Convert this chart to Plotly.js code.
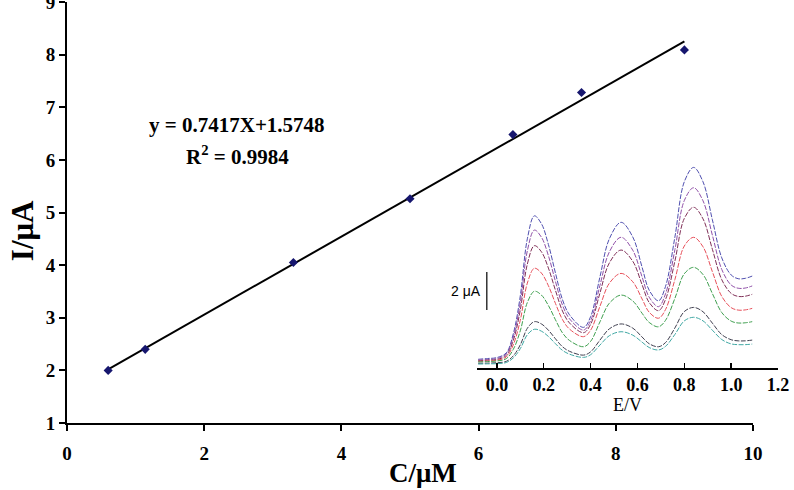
<!DOCTYPE html>
<html>
<head>
<meta charset="utf-8">
<script src="https://cdn.plot.ly/plotly-3.0.1.min.js"></script>
<style>
  html, body { margin: 0; padding: 0; background: #ffffff; }
  #chart { width: 794px; height: 490px; }
</style>
</head>
<body>
<div id="chart"></div>
<script>
// Calibration: peak current vs. concentration
const conc = [0.6, 1.14, 3.3, 5.0, 6.5, 7.5, 9.0];          // C / µM
const current = [2.0, 2.4, 4.05, 5.26, 6.48, 7.28, 8.09];   // I / µA
const slope = 0.7417;
const intercept = 1.5748;
const rSquared = 0.9984;

// Inset: differential pulse voltammograms (potential in V, current in µA, offset scale)
const potential = [-0.08, -0.04, 0.00, 0.04, 0.07, 0.10, 0.13, 0.16, 0.19, 0.22, 0.25, 0.28, 0.31,
  0.37, 0.40, 0.44, 0.48, 0.53, 0.58, 0.62, 0.65, 0.69, 0.72, 0.76, 0.80, 0.84, 0.88, 0.92, 0.96,
  1.00, 1.03, 1.06, 1.09];
const dpv1 = [0.46, 0.50, 0.55, 0.80, 1.80, 3.80, 6.80, 8.01, 7.60, 6.50, 5.00, 3.60, 2.80, 2.14, 2.70,
  4.80, 6.80, 7.67, 6.90, 5.30, 4.10, 3.54, 4.30, 6.90, 9.80, 10.56, 9.80, 7.80, 5.80, 4.90, 4.70, 4.72, 4.84];
const dpv2 = [0.42, 0.45, 0.50, 0.74, 1.63, 3.44, 6.17, 7.26, 6.89, 5.91, 4.56, 3.31, 2.59, 2.00, 2.49,
  4.35, 6.11, 6.88, 6.20, 4.79, 3.73, 3.23, 3.91, 6.23, 8.81, 9.49, 8.80, 6.99, 5.19, 4.37, 4.20, 4.21, 4.32];
const dpv3 = [0.38, 0.41, 0.45, 0.66, 1.45, 3.06, 5.47, 6.44, 6.12, 5.26, 4.09, 3.00, 2.37, 1.86, 2.30,
  3.95, 5.53, 6.21, 5.62, 4.38, 3.45, 3.02, 3.61, 5.63, 7.87, 8.46, 7.85, 6.25, 4.65, 3.93, 3.77, 3.78, 3.88];
const dpv4 = [0.35, 0.37, 0.41, 0.58, 1.22, 2.52, 4.47, 5.25, 5.00, 4.33, 3.40, 2.55, 2.05, 1.65, 1.99,
  3.25, 4.46, 4.98, 4.54, 3.63, 2.94, 2.62, 3.08, 4.66, 6.42, 6.88, 6.38, 5.07, 3.77, 3.18, 3.05, 3.06, 3.14];
const dpv5 = [0.32, 0.34, 0.37, 0.49, 0.98, 1.96, 3.45, 4.04, 3.84, 3.29, 2.54, 1.85, 1.45, 1.12, 1.40,
  2.43, 3.41, 3.84, 3.53, 2.88, 2.40, 2.17, 2.51, 3.67, 4.96, 5.30, 4.92, 3.92, 2.92, 2.47, 2.37, 2.38, 2.44];
const dpv6 = [0.25, 0.26, 0.28, 0.35, 0.64, 1.22, 2.09, 2.44, 2.32, 1.99, 1.54, 1.12, 0.88, 0.68, 0.85,
  1.47, 2.06, 2.32, 2.10, 1.63, 1.28, 1.12, 1.34, 2.11, 2.97, 3.19, 2.96, 2.36, 1.76, 1.49, 1.43, 1.43, 1.47];
const dpv7 = [0.21, 0.22, 0.23, 0.29, 0.53, 1.02, 1.75, 2.04, 1.94, 1.66, 1.28, 0.93, 0.73, 0.56, 0.70,
  1.21, 1.70, 1.91, 1.73, 1.36, 1.08, 0.95, 1.14, 1.77, 2.48, 2.67, 2.48, 1.99, 1.50, 1.27, 1.23, 1.23, 1.26];
const dpvCurves = [dpv1, dpv2, dpv3, dpv4, dpv5, dpv6, dpv7];
const dpvColors = ['#5050b0', '#9050a8', '#803058', '#e8505a', '#40a050', '#404050', '#40a8a4'];

const serif = 'Liberation Serif, Times New Roman, serif';

// Fitted line over the measured concentration span
const fitX = [conc[0], conc[conc.length - 1]];
const fitY = fitX.map(c => slope * c + intercept);

const traces = [
  {
    x: fitX, y: fitY, mode: 'lines', type: 'scatter',
    line: { color: '#000000', width: 2 }, hoverinfo: 'skip', showlegend: false
  },
  {
    x: conc, y: current, mode: 'markers', type: 'scatter',
    marker: { symbol: 'diamond', size: 7, color: '#16166e' }, showlegend: false
  }
];

dpvCurves.forEach((curve, i) => {
  traces.push({
    x: potential, y: curve, mode: 'lines', type: 'scatter',
    xaxis: 'x2', yaxis: 'y2',
    line: { color: dpvColors[i], width: 1, shape: 'spline', smoothing: 1, dash: '5px,1.5px' },
    showlegend: false
  });
});

const layout = {
  width: 794, height: 490,
  margin: { l: 67, r: 10, t: 2, b: 67 },
  paper_bgcolor: '#ffffff', plot_bgcolor: 'rgba(0,0,0,0)',
  showlegend: false,
  xaxis: {
    domain: [0, 0.9568], range: [0, 10], dtick: 2, tick0: 0,
    showgrid: false, zeroline: false,
    showline: true, linecolor: '#000000', linewidth: 2,
    ticks: 'outside', ticklen: 6, tickwidth: 2, tickcolor: '#000000',
    ticklabelstandoff: 6,
    tickfont: { family: serif, size: 19, color: '#000000', weight: 'bold' }
  },
  yaxis: {
    domain: [0, 1], range: [1, 9], dtick: 1,
    showgrid: false, zeroline: false,
    showline: true, linecolor: '#000000', linewidth: 2,
    ticks: 'outside', ticklen: 6, tickwidth: 2, tickcolor: '#000000',
    ticklabeloverflow: 'allow',
    tickfont: { family: serif, size: 19, color: '#000000', weight: 'bold' }
  },
  xaxis2: {
    domain: [0.5718, 0.9916], range: [-0.085, 1.2], dtick: 0.2, tick0: 0,
    anchor: 'y2', tickformat: '.1f',
    showgrid: false, zeroline: false,
    showline: true, linecolor: '#000000', linewidth: 1.5,
    ticks: 'inside', ticklen: 5, tickwidth: 1.5, tickcolor: '#000000',
    tickfont: { family: serif, size: 18, color: '#000000', weight: 'bold' },
    title: { text: 'E/V', font: { family: serif, size: 18, color: '#000000' }, standoff: 4 }
  },
  yaxis2: {
    domain: [0.1306, 0.6247], range: [0, 10.95], anchor: 'x2',
    visible: false
  },
  shapes: [
    // 2 µA scale bar
    { type: 'line', xref: 'x2', yref: 'y2', x0: -0.043, x1: -0.043, y0: 3.05, y1: 5.05,
      line: { color: '#000000', width: 1.2 } }
  ],
  annotations: [
    // axis titles
    { xref: 'paper', yref: 'paper', x: 0.497, y: -0.118, yanchor: 'middle', showarrow: false,
      borderpad: 0, text: 'C/μM', font: { family: serif, size: 27, color: '#000000', weight: 'bold' } },
    { xref: 'paper', yref: 'paper', x: -0.062, y: 0.457, xanchor: 'center', yanchor: 'middle',
      textangle: -90, showarrow: false,
      text: 'I/μA', font: { family: serif, size: 31, color: '#000000', weight: 'bold' } },
    // regression equation
    { xref: 'x', yref: 'y', x: 2.48, y: 6.67, showarrow: false,
      text: 'y = ' + slope + 'X+' + intercept,
      font: { family: serif, size: 21, color: '#000000', weight: 'bold' } },
    { xref: 'x', yref: 'y', x: 2.48, y: 6.08, showarrow: false,
      text: 'R<sup>2</sup> = ' + rSquared,
      font: { family: serif, size: 21, color: '#000000', weight: 'bold' } },
    // scale bar label
    { xref: 'x2', yref: 'y2', x: -0.06, y: 4.05, xanchor: 'right', showarrow: false,
      text: '2 μA', font: { family: 'Liberation Sans, Arial, sans-serif', size: 14, color: '#000000' } }
  ]
};

Plotly.newPlot('chart', traces, layout, { displayModeBar: false, staticPlot: true });
</script>
</body>
</html>
